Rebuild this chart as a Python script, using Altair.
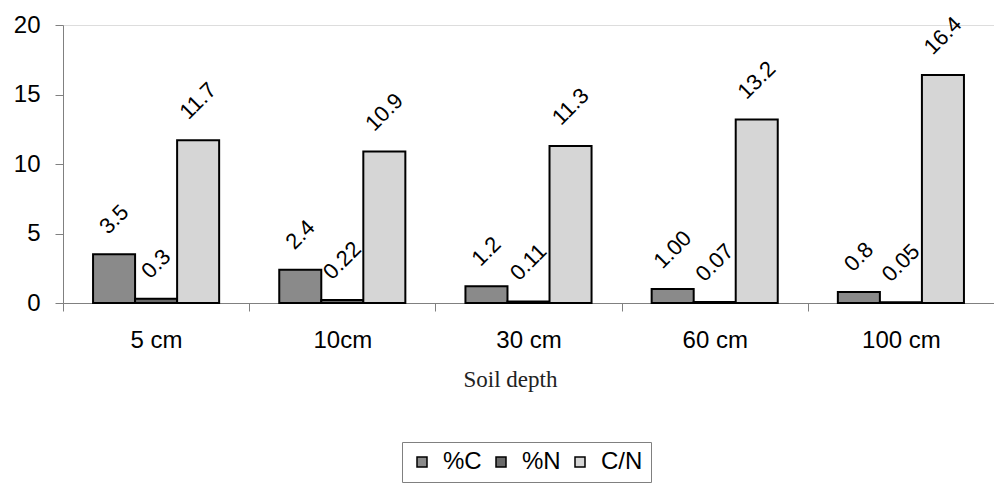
import altair as alt
import pandas as pd

depths = ["5 cm", "10cm", "30 cm", "60 cm", "100 cm"]
series = ["%C", "%N", "C/N"]
pct_c = [3.5, 2.4, 1.2, 1.0, 0.8]
pct_n = [0.3, 0.22, 0.11, 0.07, 0.05]
c_n = [11.7, 10.9, 11.3, 13.2, 16.4]
lab_c = ["3.5", "2.4", "1.2", "1.00", "0.8"]
lab_n = ["0.3", "0.22", "0.11", "0.07", "0.05"]
lab_cn = ["11.7", "10.9", "11.3", "13.2", "16.4"]
colors = ["#8a8a8a", "#6a6a6a", "#d6d6d6"]

rows = []
for vals, labs, s in [(pct_c, lab_c, "%C"), (pct_n, lab_n, "%N"), (c_n, lab_cn, "C/N")]:
    for d, v, l in zip(depths, vals, labs):
        rows.append({"depth": d, "series": s, "value": v, "label": l})
df = pd.DataFrame(rows)

FONT = "Liberation Sans"

x = alt.X(
    "depth:N", sort=depths,
    scale=alt.Scale(paddingInner=0, paddingOuter=0),
    axis=alt.Axis(
        title="Soil depth", labelAngle=0, tickBand="extent", tickSize=8,
        labelPadding=17, labelFontSize=24, labelFont=FONT, labelColor="black",
        titleFont="Liberation Serif", titleFontSize=23, titleFontWeight="normal",
        titleColor="#222222", titlePadding=16, titleX=447, titleAlign="center",
        domainColor="#808080", tickColor="#808080",
    ),
)
xoff = alt.XOffset("series:N", sort=series,
                   scale=alt.Scale(paddingOuter=0.715, paddingInner=0))
y = alt.Y(
    "value:Q",
    scale=alt.Scale(domain=[0, 20], nice=False),
    axis=alt.Axis(
        values=[0, 5, 10, 15, 20], title=None, grid=False, tickSize=8,
        labelPadding=15, labelFontSize=24, labelFont=FONT, labelColor="black",
        domainColor="#808080", tickColor="#808080",
    ),
)

bars = alt.Chart(df).mark_bar(stroke="black", strokeWidth=2).encode(
    x=x, xOffset=xoff, y=y,
    color=alt.Color(
        "series:N", sort=series,
        scale=alt.Scale(domain=series, range=colors),
        legend=alt.Legend(
            title=None, orient="none", legendX=339, legendY=417,
            direction="horizontal", symbolType="square", symbolSize=100,
            symbolStrokeColor="black", symbolStrokeWidth=1.5,
            labelFontSize=24, labelFont=FONT, labelColor="black",
            strokeColor="#808080", padding=8, columnPadding=7, labelOffset=9,
        ),
    ),
)

short_labels = alt.Chart(df).transform_filter("length(datum.label) == 3").mark_text(
    align="center", baseline="middle", angle=315, dx=24.7, dy=-24.7,
    fontSize=22, font=FONT, color="black",
).encode(x=x, xOffset=xoff, y=y, text="label:N")

long_labels = alt.Chart(df).transform_filter("length(datum.label) == 4").mark_text(
    align="center", baseline="middle", angle=315, dx=27.8, dy=-27.8,
    fontSize=22, font=FONT, color="black",
).encode(x=x, xOffset=xoff, y=y, text="label:N")

chart = alt.layer(bars, short_labels, long_labels).properties(
    width=931, height=278,
    autosize=alt.AutoSizeParams(type="none"),
    padding={"left": 63, "top": 25, "right": 0, "bottom": 181},
).configure_view(stroke=None).configure(background="white")

chart.save("out.html", embed_options={"renderer": "svg", "actions": False})
